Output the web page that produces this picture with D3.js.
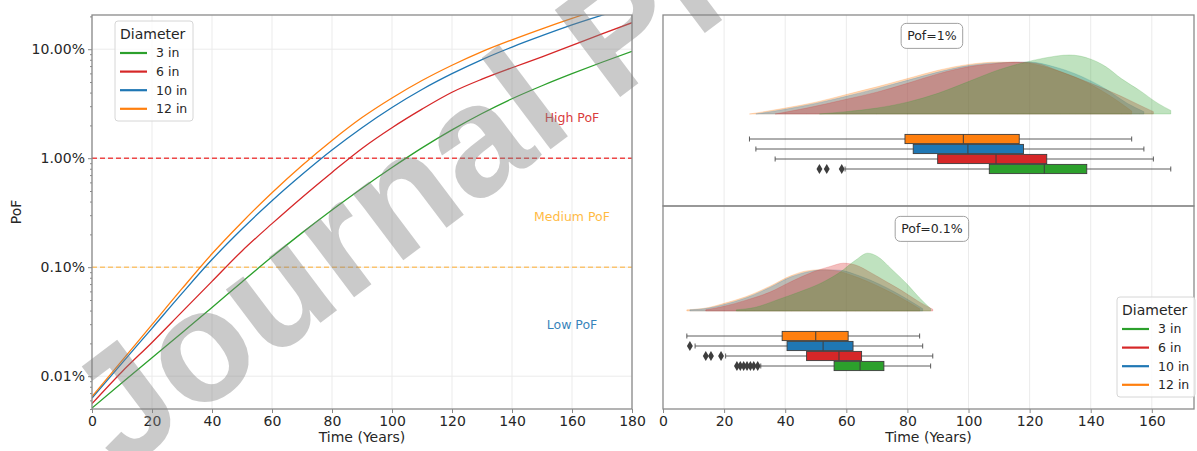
<!DOCTYPE html>
<html>
<head>
<meta charset="utf-8">
<script src="https://cdn.jsdelivr.net/npm/d3@7"></script>
<style>
  body { margin: 0; background: #fff; }
  svg { display: block; font-family: "DejaVu Sans", sans-serif; }
</style>
</head>
<body>
<svg id="chart" width="1197" height="451"></svg>
<script>
// ---- data ----
const diameters = ['3 in', '6 in', '10 in', '12 in'];
const colors = ['#2ca02c', '#d62728', '#1f77b4', '#ff7f0e'];

// PoF (%) against time (years)
const years = [0, 10, 20, 30, 40, 50, 60, 70, 80, 90, 100, 110, 120, 130, 140, 150, 160, 170, 180];
const pof3  = [0.0051, 0.0087, 0.0148, 0.0251, 0.0427, 0.0733, 0.1245, 0.2065, 0.335, 0.531, 0.822, 1.245, 1.82, 2.57, 3.51, 4.62, 5.96, 7.59, 9.55];
const pof6  = [0.0056, 0.011, 0.0204, 0.0389, 0.0741, 0.141, 0.251, 0.437, 0.741, 1.23, 1.905, 2.82, 4.03, 5.31, 6.76, 8.51, 10.84, 13.8, 17.5];
const pof10 = [0.0063, 0.0132, 0.0275, 0.0575, 0.1175, 0.224, 0.407, 0.708, 1.189, 1.905, 2.92, 4.27, 5.96, 8.04, 10.47, 13.3, 16.7, 20.5, 24.9];
const pof12 = [0.0065, 0.0139, 0.0297, 0.0635, 0.1327, 0.2588, 0.482, 0.857, 1.455, 2.36, 3.57, 5.16, 7.13, 9.51, 12.2, 15.4, 19.2, 23.6, 28.7];

// thresholds and zone labels
const thresholds = [1, 0.1];
const zoneLabels = ['High PoF', 'Medium PoF', 'Low PoF'];
const zoneValues = [2.34, 0.29, 0.0295];

// time to reach PoF=1% : density [year, relative density]
const kde1_3  = [[51.2, 0], [60, 0.04], [70, 0.1], [80, 0.2], [90, 0.35], [100, 0.55], [110, 0.75], [118, 0.87], [125, 0.95], [133, 1.0], [140, 0.93], [145, 0.8], [150, 0.6], [156, 0.4], [162, 0.18], [166.2, 0.06]];
const kde1_6  = [[36.7, 0], [47, 0.1], [60, 0.25], [70, 0.37], [80, 0.52], [90, 0.68], [100, 0.8], [110, 0.86], [116, 0.88], [122, 0.86], [130, 0.72], [140, 0.52], [150, 0.3], [156, 0.15], [160.5, 0.04]];
const kde1_10 = [[30.4, 0], [40, 0.08], [50, 0.18], [60, 0.3], [70, 0.43], [80, 0.57], [90, 0.71], [100, 0.82], [110, 0.87], [120, 0.88], [128, 0.8], [135, 0.68], [145, 0.42], [152, 0.18], [157.4, 0.04]];
const kde1_12 = [[28.3, 0], [40, 0.1], [50, 0.2], [60, 0.33], [70, 0.46], [80, 0.6], [90, 0.74], [100, 0.84], [110, 0.88], [118, 0.87], [125, 0.8], [130, 0.72], [140, 0.5], [148, 0.25], [153.4, 0.05]];

// time to reach PoF=0.1%
const kde01_3  = [[24, 0.02], [30, 0.06], [38, 0.2], [45, 0.33], [52, 0.48], [58, 0.66], [63, 0.86], [67, 0.98], [70, 0.93], [75, 0.7], [80, 0.45], [84, 0.22], [87.6, 0.04]];
const kde01_6  = [[14, 0.02], [20, 0.08], [27, 0.18], [35, 0.32], [42, 0.5], [49, 0.66], [55, 0.76], [59, 0.81], [63, 0.78], [68, 0.65], [73, 0.5], [78, 0.35], [84, 0.15], [88.3, 0.03]];
const kde01_10 = [[8.8, 0.02], [15, 0.05], [20, 0.11], [27, 0.22], [35, 0.4], [42, 0.58], [48, 0.67], [53, 0.7], [58, 0.69], [63, 0.62], [68, 0.52], [73, 0.4], [79, 0.23], [85, 0.04]];
const kde01_12 = [[7.8, 0.02], [15, 0.06], [20, 0.13], [27, 0.24], [35, 0.42], [42, 0.6], [47, 0.68], [52, 0.7], [57, 0.68], [62, 0.6], [67, 0.5], [72, 0.38], [78, 0.22], [84, 0.04]];

// box stats [whisker low, q1, median, q3, whisker high]
const box1 = [[59.6, 106.8, 124.8, 138.7, 166.2], [36.7, 89.9, 109, 125.6, 160.5], [30.4, 81.9, 99.8, 118, 157.4], [28.3, 79.2, 98.3, 116.6, 153.4]];
const fliers1 = [[51.2, 53.6, 58.5], [], [], []];
const box01 = [[32, 56, 64.5, 72.3, 87.6], [20.5, 47, 57.6, 65, 88.3], [10.5, 40.6, 52.4, 62.2, 85], [7.8, 39, 50, 60.6, 84]];
const fliers01 = [[24.2, 25.3, 26.4, 27.5, 28.6, 29.7, 31.0], [14, 15.7, 19], [8.8], []];

const svg = d3.select('#chart');
const tickColor = '#262626';
const spineColor = '#8a8a8a';
const gridColor = '#ebebeb';

// ================= left chart =================
const L = {x0: 92, x1: 632, y0: 15, y1: 409};
const xL = d3.scaleLinear().domain([0, 180]).range([L.x0, L.x1]);
const yL = d3.scaleLog().domain([0.005, 20.6]).range([L.y1, L.y0]);

svg.append('clipPath').attr('id', 'clipL')
  .append('rect').attr('x', L.x0).attr('y', L.y0).attr('width', L.x1 - L.x0).attr('height', L.y1 - L.y0);

const gL = svg.append('g');
// grid
gL.selectAll('.vg').data(d3.range(0, 181, 20)).join('line')
  .attr('x1', d => xL(d)).attr('x2', d => xL(d)).attr('y1', L.y0).attr('y2', L.y1)
  .attr('stroke', gridColor).attr('stroke-width', 1);
gL.selectAll('.hg').data([0.01, 0.1, 1, 10]).join('line')
  .attr('x1', L.x0).attr('x2', L.x1).attr('y1', d => yL(d)).attr('y2', d => yL(d))
  .attr('stroke', gridColor).attr('stroke-width', 1);

// thresholds
gL.append('line').attr('x1', L.x0).attr('x2', L.x1).attr('y1', yL(thresholds[0])).attr('y2', yL(thresholds[0]))
  .attr('stroke', '#ee2a2a').attr('stroke-width', 1.4).attr('stroke-dasharray', '5,3').attr('opacity', 0.85);
gL.append('line').attr('x1', L.x0).attr('x2', L.x1).attr('y1', yL(thresholds[1])).attr('y2', yL(thresholds[1]))
  .attr('stroke', '#ffb23a').attr('stroke-width', 1.4).attr('stroke-dasharray', '5,3').attr('opacity', 0.7);

// zone labels
const zoneColors = ['#d62728', '#ffa500', '#1f77b4'];
zoneLabels.forEach((t, i) => {
  gL.append('text').attr('x', xL(160)).attr('y', yL(zoneValues[i])).attr('dy', '0.35em')
    .attr('text-anchor', 'middle').attr('font-size', 12.5).attr('fill', zoneColors[i])
    .attr('opacity', i === 1 ? 0.75 : 0.9).text(t);
});

// curves
const pofSeries = [pof3, pof6, pof10, pof12];
const line = d3.line().x(d => xL(d[0])).y(d => yL(d[1])).curve(d3.curveMonotoneX);
pofSeries.forEach((s, i) => {
  gL.append('path').datum(years.map((y, j) => [y, s[j]]))
    .attr('clip-path', 'url(#clipL)')
    .attr('d', line).attr('fill', 'none').attr('stroke', colors[i]).attr('stroke-width', 1.3);
});

// axes
const axL = gL.append('g').attr('transform', `translate(0,${L.y1})`)
  .call(d3.axisBottom(xL).tickValues(d3.range(0, 181, 20)).tickSize(4).tickPadding(3));
const ayL = gL.append('g').attr('transform', `translate(${L.x0},0)`)
  .call(d3.axisLeft(yL).tickValues([0.01, 0.1, 1, 10]).tickFormat(d => d.toFixed(2) + '%').tickSize(4).tickPadding(3));
const minor = yL.ticks().filter(d => ![0.01, 0.1, 1, 10].some(m => Math.abs(d - m) < 1e-9));
gL.append('g').attr('transform', `translate(${L.x0},0)`)
  .call(d3.axisLeft(yL).tickValues(minor).tickFormat('').tickSize(2));
[axL, ayL].forEach(a => {
  a.selectAll('text').attr('font-size', 14).attr('fill', tickColor).attr('font-family', 'DejaVu Sans');
});
gL.selectAll('.domain').remove();
gL.selectAll('.tick line').attr('stroke', spineColor);

gL.append('rect').attr('x', L.x0).attr('y', L.y0).attr('width', L.x1 - L.x0).attr('height', L.y1 - L.y0)
  .attr('fill', 'none').attr('stroke', spineColor).attr('stroke-width', 1.3);

gL.append('text').attr('x', (L.x0 + L.x1) / 2).attr('y', 442).attr('text-anchor', 'middle')
  .attr('font-size', 14).attr('fill', tickColor).text('Time (Years)');
gL.append('text').attr('transform', `translate(21,${(L.y0 + L.y1) / 2}) rotate(-90)`).attr('text-anchor', 'middle')
  .attr('font-size', 14).attr('fill', tickColor).text('PoF');

// legend
function legend(g, x, y) {
  const w = 78, h = 100;
  g.append('rect').attr('x', x).attr('y', y).attr('width', w).attr('height', h).attr('rx', 3)
    .attr('fill', '#fff').attr('fill-opacity', 0.8).attr('stroke', '#d6d6d6');
  g.append('text').attr('x', x + 5).attr('y', y + 18).attr('font-size', 14).attr('fill', tickColor).text('Diameter');
  diameters.forEach((d, i) => {
    const cy = y + 32 + i * 18.6;
    g.append('line').attr('x1', x + 5).attr('x2', x + 32).attr('y1', cy).attr('y2', cy)
      .attr('stroke', colors[i]).attr('stroke-width', 2.2);
    g.append('text').attr('x', x + 41).attr('y', cy).attr('dy', '0.35em').attr('font-size', 12.5)
      .attr('fill', tickColor).text(d);
  });
}
legend(gL, 115, 21);

// ================= right chart =================
const R = {x0: 663, x1: 1194};
const xR = d3.scaleLinear().domain([0, 173.8]).range([R.x0, R.x1]);
const panels = [
  {top: 15, bottom: 206, base: 114, boxes: [134, 174], kde: [kde1_3, kde1_6, kde1_10, kde1_12], box: box1, fliers: fliers1, label: 'Pof=1%', labelY: 36},
  {top: 206, bottom: 409, base: 311, boxes: [331, 371], kde: [kde01_3, kde01_6, kde01_10, kde01_12], box: box01, fliers: fliers01, label: 'Pof=0.1%', labelY: 229}
];
const gR = svg.append('g');
gR.selectAll('.vg').data(d3.range(20, 174, 20)).join('line')
  .attr('x1', d => xR(d)).attr('x2', d => xR(d)).attr('y1', 15).attr('y2', 409)
  .attr('stroke', gridColor).attr('stroke-width', 1);

const rowOrder = ['12 in', '10 in', '6 in', '3 in'];
panels.forEach(p => {
  const yD = d3.scaleLinear().domain([0, 1]).range([p.base, p.base - 59]);
  const yB = d3.scaleBand().domain(rowOrder).range(p.boxes);
  const area = d3.area().x(d => xR(d[0])).y0(p.base).y1(d => yD(d[1])).curve(d3.curveMonotoneX);
  [3, 2, 1, 0].forEach(i => {
    gR.append('path').datum(p.kde[i]).attr('d', area)
      .attr('fill', colors[i]).attr('fill-opacity', 0.3)
      .attr('stroke', colors[i]).attr('stroke-opacity', 0.2).attr('stroke-width', 1);
  });
  diameters.forEach((d, i) => {
    const s = p.box[i];
    const cy = yB(d) + yB.bandwidth() / 2;
    const bh = yB.bandwidth() * 0.92;
    const g = gR.append('g');
    g.append('line').attr('x1', xR(s[0])).attr('x2', xR(s[4])).attr('y1', cy).attr('y2', cy)
      .attr('stroke', '#4a4a4a').attr('stroke-width', 0.9);
    [s[0], s[4]].forEach(v => g.append('line').attr('x1', xR(v)).attr('x2', xR(v))
      .attr('y1', cy - 2.5).attr('y2', cy + 2.5).attr('stroke', '#4a4a4a').attr('stroke-width', 0.9));
    g.append('rect').attr('x', xR(s[1])).attr('y', cy - bh / 2).attr('width', xR(s[3]) - xR(s[1])).attr('height', bh)
      .attr('fill', colors[i]).attr('stroke', '#3d3d3d').attr('stroke-width', 0.9);
    g.append('line').attr('x1', xR(s[2])).attr('x2', xR(s[2])).attr('y1', cy - bh / 2).attr('y2', cy + bh / 2)
      .attr('stroke', '#3d3d3d').attr('stroke-width', 1);
    p.fliers[i].forEach(v => g.append('path')
      .attr('transform', `translate(${xR(v)},${cy})`)
      .attr('d', d3.symbol(d3.symbolDiamond, 30)()).attr('fill', '#3d3d3d'));
  });
  // annotation box
  const t = gR.append('text').attr('x', xR(88)).attr('y', p.labelY).attr('dy', '0.35em')
    .attr('text-anchor', 'middle').attr('font-size', 12.5).attr('fill', tickColor).text(p.label);
  const bb = t.node().getBBox();
  gR.insert('rect', () => t.node()).attr('x', bb.x - 6).attr('y', bb.y - 5).attr('width', bb.width + 12)
    .attr('height', bb.height + 10).attr('rx', 5).attr('fill', '#fff').attr('stroke', '#a0a0a0');
  gR.append('rect').attr('x', R.x0).attr('y', p.top).attr('width', R.x1 - R.x0).attr('height', p.bottom - p.top)
    .attr('fill', 'none').attr('stroke', spineColor).attr('stroke-width', 1.3);
});

const axR = gR.append('g').attr('transform', 'translate(0,409)')
  .call(d3.axisBottom(xR).tickValues(d3.range(0, 161, 20)).tickSize(4).tickPadding(3));
axR.select('.domain').remove();
axR.selectAll('.tick line').attr('stroke', spineColor);
axR.selectAll('text').attr('font-size', 14).attr('fill', tickColor).attr('font-family', 'DejaVu Sans');
gR.append('text').attr('x', (R.x0 + R.x1) / 2).attr('y', 442).attr('text-anchor', 'middle')
  .attr('font-size', 14).attr('fill', tickColor).text('Time (Years)');
legend(gR, 1117, 297);

// watermark
svg.append('text').attr('transform', 'translate(121,473) rotate(-37)')
  .attr('font-family', 'Liberation Sans').attr('font-weight', 'bold').attr('font-size', 158)
  .attr('fill', '#808080').attr('fill-opacity', 0.42).text('Journal Pre-proof');
</script>
</body>
</html>
